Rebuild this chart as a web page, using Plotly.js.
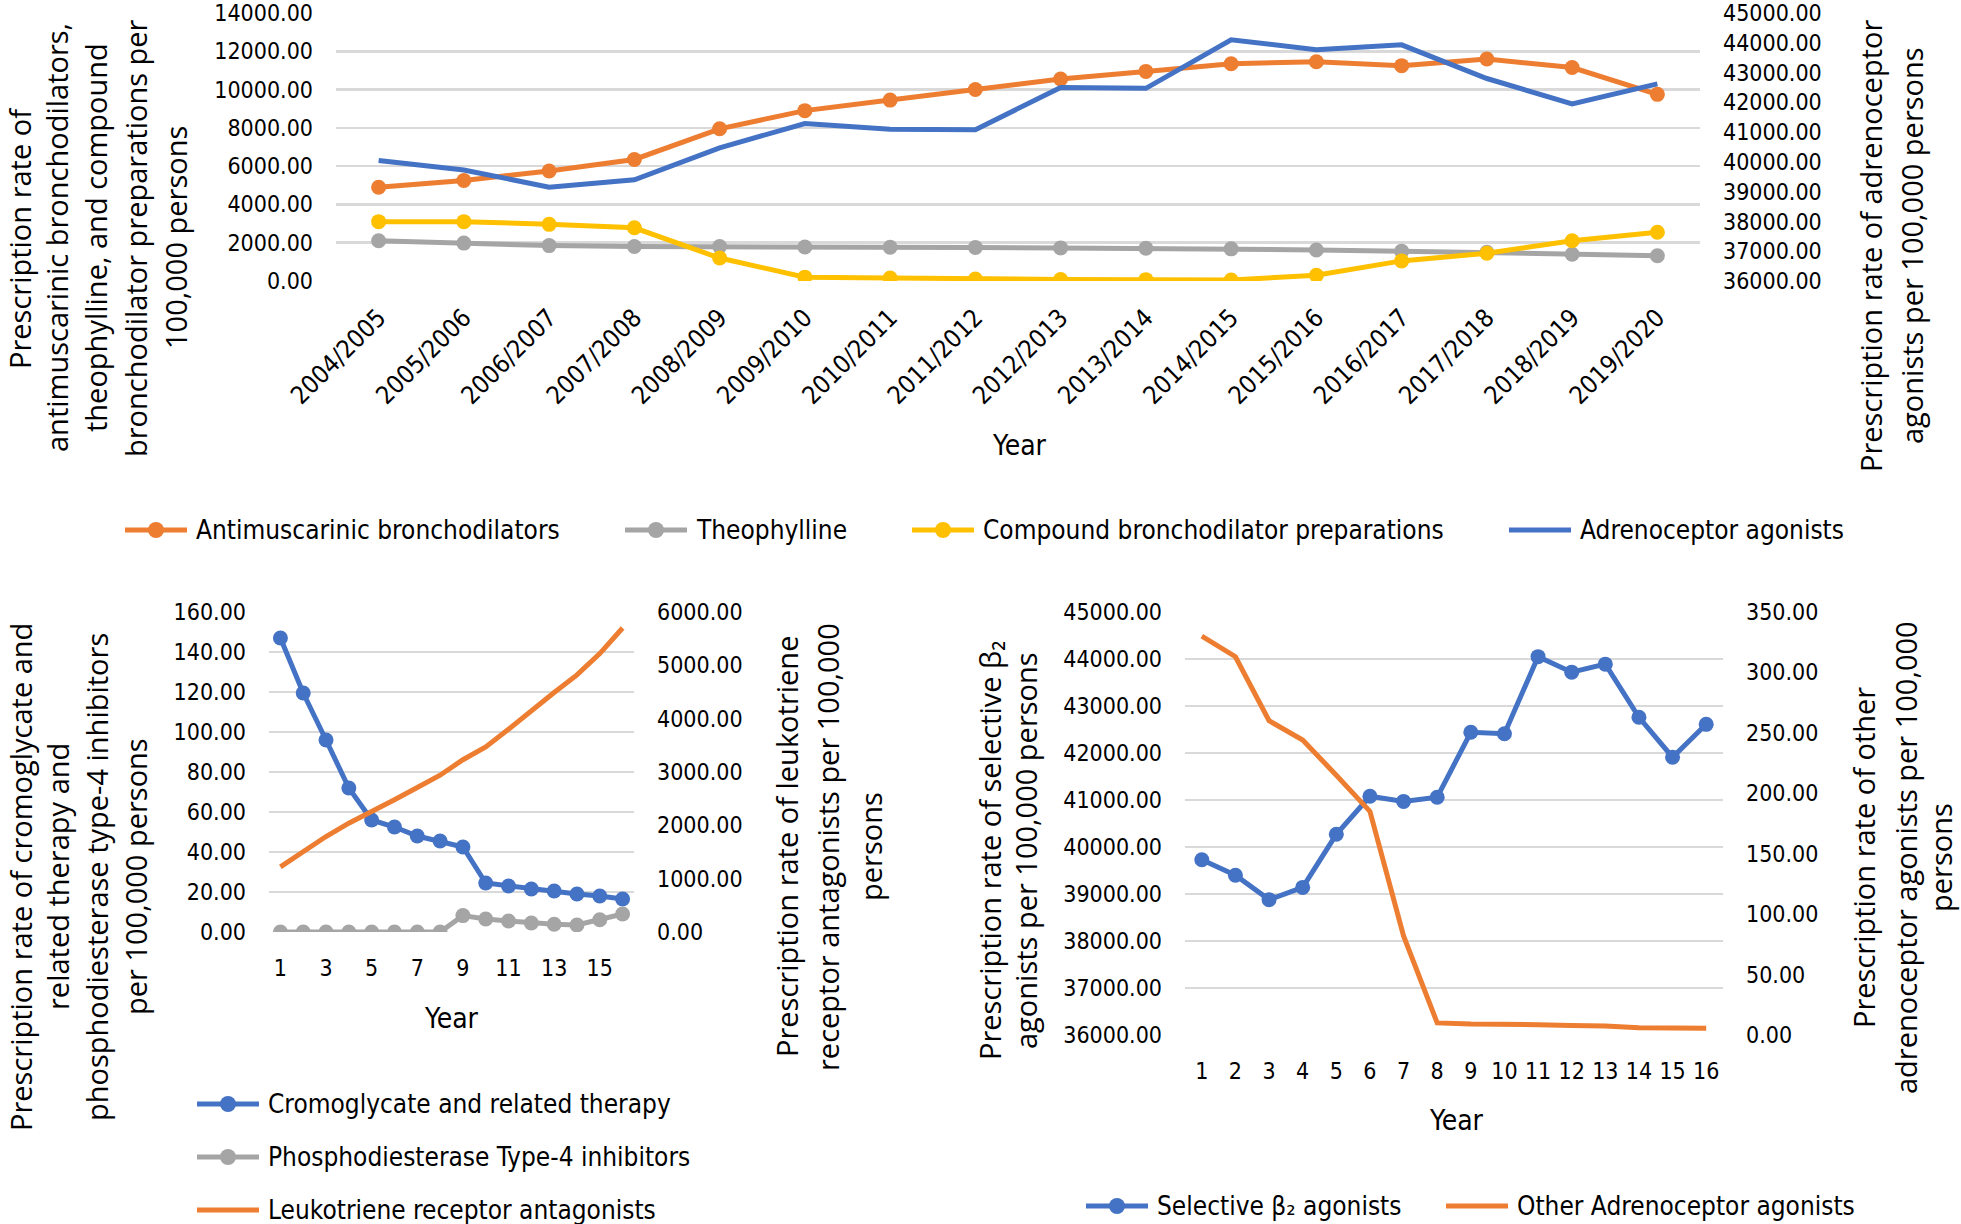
<!DOCTYPE html>
<html>
<head>
<meta charset="utf-8">
<script src="https://cdn.plot.ly/plotly-3.0.1.min.js"></script>
<style>html,body{margin:0;padding:0;background:#fff}#chart{width:1961px;height:1224px}</style>
</head>
<body>
<div id="chart"></div>
<script>
// ---------------- DATA ----------------
const years = ['2004/2005','2005/2006','2006/2007','2007/2008','2008/2009','2009/2010','2010/2011','2011/2012',
               '2012/2013','2013/2014','2014/2015','2015/2016','2016/2017','2017/2018','2018/2019','2019/2020'];
const antimuscarinic = [4900, 5250, 5750, 6350, 7950, 8900, 9450, 10000, 10550, 10950, 11350, 11450, 11250, 11600, 11150, 9750];
const theophylline   = [2100, 1980, 1850, 1800, 1800, 1780, 1760, 1750, 1730, 1710, 1680, 1620, 1560, 1500, 1400, 1320];
const compound       = [3100, 3100, 2960, 2780, 1200, 200, 160, 100, 80, 70, 50, 300, 1050, 1450, 2100, 2550];
const adrenoceptor   = [40050, 39730, 39150, 39400, 40470, 41290, 41100, 41080, 42500, 42470, 44100, 43770, 43930, 42800, 41950, 42620];

const yearIndex    = [1, 2, 3, 4, 5, 6, 7, 8, 9, 10, 11, 12, 13, 14, 15, 16];
const cromoglycate = [147, 119.5, 96, 72, 56, 52.5, 48, 45.5, 42.5, 24.5, 23, 21.5, 20.5, 19, 18, 16.5];
const pde4         = [0, 0, 0, 0, 0, 0, 0, 0, 8.2, 6.5, 5.5, 4.5, 3.9, 3.5, 6.1, 9];
const leukotriene  = [1220, 1510, 1790, 2040, 2250, 2480, 2710, 2940, 3230, 3470, 3800, 4160, 4490, 4820, 5220, 5700];
const selectiveB2  = [39730, 39400, 38880, 39140, 40270, 41080, 40970, 41060, 42440, 42410, 44050, 43720, 43890, 42760, 41910, 42610];
const otherAdreno  = [330, 313, 260, 244, 215, 185, 82, 10, 9, 9, 8.5, 7.8, 7.5, 6.1, 5.8, 5.5];

const names = {
  antimuscarinic: 'Antimuscarinic bronchodilators',
  theophylline: 'Theophylline',
  compound: 'Compound bronchodilator preparations',
  adrenoceptor: 'Adrenoceptor agonists',
  cromoglycate: 'Cromoglycate and related therapy',
  pde4: 'Phosphodiesterase Type-4 inhibitors',
  leukotriene: 'Leukotriene receptor antagonists',
  selectiveB2: 'Selective β₂ agonists',
  otherAdreno: 'Other Adrenoceptor agonists'
};

// ---------------- STYLE ----------------
const W = 1961, H = 1224;
const BLUE = '#4472C4', ORANGE = '#ED7D31', GRAY = '#A5A5A5', YELLOW = '#FFC000', GRID = '#D9D9D9';
const TICKF = 'DejaVu Sans Condensed, Liberation Sans Narrow, sans-serif';
const TITLEF = 'Open Sans, DejaVu Sans, sans-serif';
const px = x => x / W;
const py = y => 1 - y / H;
const LW = 5, MS = 15;

function line(x, y, name, color, xa, ya, markers) {
  return {
    type: 'scatter', x: x, y: y, name: name, xaxis: xa, yaxis: ya,
    mode: markers ? 'lines+markers' : 'lines',
    line: {color: color, width: LW},
    marker: {color: color, size: MS, symbol: 'circle'},
    hoverinfo: 'x+y+name'
  };
}

const traces = [
  line(years, antimuscarinic, names.antimuscarinic, ORANGE, 'x', 'y', true),
  line(years, theophylline, names.theophylline, GRAY, 'x', 'y', true),
  line(years, compound, names.compound, YELLOW, 'x', 'y', true),
  line(years, adrenoceptor, names.adrenoceptor, BLUE, 'x', 'y2', false),
  line(yearIndex, cromoglycate, names.cromoglycate, BLUE, 'x2', 'y3', true),
  line(yearIndex, pde4, names.pde4, GRAY, 'x2', 'y3', true),
  line(yearIndex, leukotriene, names.leukotriene, ORANGE, 'x2', 'y4', false),
  line(yearIndex, selectiveB2, names.selectiveB2, BLUE, 'x3', 'y5', true),
  line(yearIndex, otherAdreno, names.otherAdreno, ORANGE, 'x3', 'y6', false)
];

const tickFont = {family: TICKF, size: 23, color: '#000'};
function yax(domain, range, dtick, anchor, extra) {
  return Object.assign({
    domain: domain, range: range, dtick: dtick, tick0: range[0], anchor: anchor,
    tickformat: '.2f', showgrid: true, gridcolor: GRID, gridwidth: 2.5,
    zeroline: false, showline: false, ticks: '', tickfont: tickFont,
    ticklabelstandoff: 22, ticklabeloverflow: 'allow', automargin: false, fixedrange: true
  }, extra || {});
}
function xax(domain, anchor, extra) {
  return Object.assign({
    domain: domain, anchor: anchor, showgrid: false, zeroline: false, showline: false,
    ticks: '', tickfont: tickFont, ticklabeloverflow: 'allow', automargin: false, fixedrange: true
  }, extra || {});
}

const TOP_Y0 = 13, TOP_Y1 = 281;
const layout = {
  width: W, height: H,
  margin: {l: 0, r: 0, t: 0, b: 0, pad: 0},
  paper_bgcolor: '#fff', plot_bgcolor: '#fff',
  showlegend: false,
  // top chart
  xaxis: xax([px(336), px(1700)], 'y', {type: 'category', range: [-0.5, 15.5], tickangle: -45,
    ticklabelstandoff: 16, tickfont: {family: TICKF, size: 25, color: '#000'}}),
  yaxis: yax([py(TOP_Y1), py(TOP_Y0)], [0, 14000], 2000, 'x'),
  yaxis2: yax([py(TOP_Y1), py(TOP_Y0)], [36000, 45000], 1000, 'x', {overlaying: 'y', side: 'right', showgrid: false}),
  // bottom-left chart
  xaxis2: xax([px(269), px(634)], 'y3', {range: [0.5, 16.5], tick0: 1, dtick: 2, ticklabelstandoff: 20}),
  yaxis3: yax([py(932), py(612)], [0, 160], 20, 'x2'),
  yaxis4: yax([py(932), py(612)], [0, 6000], 1000, 'x2', {overlaying: 'y3', side: 'right', showgrid: false}),
  // bottom-right chart
  xaxis3: xax([px(1185), px(1723)], 'y5', {range: [0.5, 16.5], tick0: 1, dtick: 1, ticklabelstandoff: 20}),
  yaxis5: yax([py(1035), py(612)], [36000, 45000], 1000, 'x3'),
  yaxis6: yax([py(1035), py(612)], [0, 350], 50, 'x3', {overlaying: 'y5', side: 'right', showgrid: false}),
  annotations: [],
  shapes: []
};

// Axis titles (rotated, one annotation per wrapped line)
function vtitle(lines, xs, yc) {
  lines.forEach((t, i) => layout.annotations.push({
    text: t, x: px(xs[i]), y: py(yc), xref: 'paper', yref: 'paper',
    xanchor: 'center', yanchor: 'middle', textangle: -90, showarrow: false,
    font: {family: TITLEF, size: 29, color: '#000'}
  }));
}
vtitle(['Prescription rate of', 'antimuscarinic bronchodilators,', 'theophylline, and compound',
        'bronchodilator preparations per', '100,000 persons'], [20, 57, 96, 136, 176], 238);
vtitle(['Prescription rate of adrenoceptor', 'agonists per 100,000 persons'], [1871, 1912], 246);
vtitle(['Prescription rate of cromoglycate and', 'related therapy and',
        'phosphodiesterase type-4 inhibitors', 'per 100,000 persons'], [20, 57, 96, 135], 877);
vtitle(['Prescription rate of leukotriene', 'receptor antagonists per 100,000', 'persons'], [786, 827, 870], 847);
vtitle(['Prescription rate of selective β₂', 'agonists per 100,000 persons'], [989, 1025], 851);
vtitle(['Prescription rate of other', 'adrenoceptor agonists per 100,000', 'persons'], [1864, 1906, 1941], 858);

function htext(t, x, y, anchor, size) {
  layout.annotations.push({
    text: t, x: px(x), y: py(y), xref: 'paper', yref: 'paper',
    xanchor: anchor, yanchor: 'middle', showarrow: false,
    font: {family: TICKF, size: size, color: '#000'}
  });
}
htext('Year', 1019, 445, 'center', 28);
htext('Year', 451, 1018, 'center', 28);
htext('Year', 1456, 1120, 'center', 28);

// Legends drawn as line + marker + label
function legendItem(name, color, markers, x0, y) {
  layout.shapes.push({type: 'line', xref: 'paper', yref: 'paper',
    x0: px(x0), x1: px(x0 + 62), y0: py(y), y1: py(y), line: {color: color, width: LW}});
  if (markers) {
    layout.shapes.push({type: 'circle', xref: 'paper', yref: 'paper',
      xsizemode: 'pixel', ysizemode: 'pixel', xanchor: px(x0 + 31), yanchor: py(y),
      x0: -8, x1: 8, y0: -8, y1: 8, fillcolor: color, line: {width: 0}});
  }
  htext(name, x0 + 69, y, 'left', 26);
}
legendItem(names.antimuscarinic, ORANGE, true, 125, 530);
legendItem(names.theophylline, GRAY, true, 625, 530);
legendItem(names.compound, YELLOW, true, 912, 530);
legendItem(names.adrenoceptor, BLUE, false, 1509, 530);

legendItem(names.cromoglycate, BLUE, true, 197, 1104);
legendItem(names.pde4, GRAY, true, 197, 1157);
legendItem(names.leukotriene, ORANGE, false, 197, 1210);

legendItem(names.selectiveB2, BLUE, true, 1086, 1206);
legendItem(names.otherAdreno, ORANGE, false, 1446, 1206);

Plotly.newPlot('chart', traces, layout, {displayModeBar: false, staticPlot: true});
</script>
</body>
</html>
